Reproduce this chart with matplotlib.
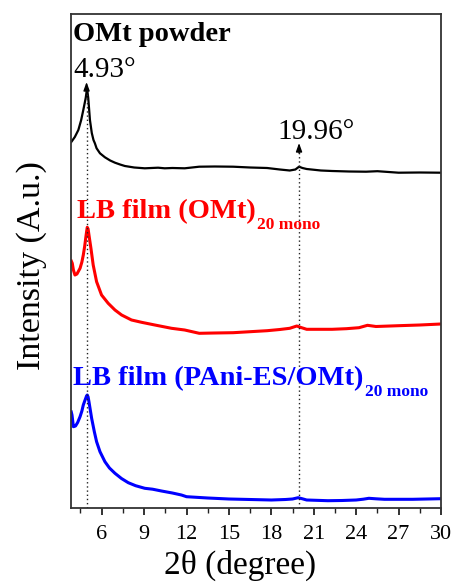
import matplotlib
matplotlib.use("Agg")
import matplotlib.pyplot as plt
from matplotlib.ticker import MultipleLocator

plt.rcParams['font.family'] = ['Liberation Serif', 'DejaVu Serif']

# ---- data (stacked intensities, arbitrary units) ----
x_omt = [3.85, 4.10, 4.35, 4.55, 4.70, 4.80, 4.87, 4.93, 4.98, 5.05, 5.17, 5.30, 5.42,
         5.52, 5.64, 5.88, 6.23, 6.60, 6.94, 7.30, 7.64, 8.3, 9.05, 9.99, 10.46, 11.0,
         11.87, 12.9, 14.0, 15.3, 16.5, 17.7, 18.6, 19.3, 19.7, 19.96, 20.2, 20.5,
         21.5, 22.3, 23.5, 24.7, 25.5, 27.0, 28.5, 30.0]
y_omt = [366, 371, 378, 388, 398, 405, 410, 416, 418, 410, 388, 375, 368,
         364.7, 359.7, 354.7, 350.7, 347.5, 345.3, 343.5, 342, 340.5, 339.7, 340.3, 339.7, 340,
         339.7, 341.3, 341.5, 341.3, 340.5, 340, 338.5, 337.5, 338.5, 341.3, 340, 339,
         337.5, 337, 336.5, 336.3, 336.8, 335.3, 335.5, 335.3]

x_lb = [3.85, 3.92, 4.00, 4.11, 4.25, 4.47, 4.60, 4.70, 4.80, 4.87, 4.93, 4.98, 5.04,
        5.10, 5.24, 5.40, 5.64, 5.99, 6.46, 6.94, 7.41, 8.11, 8.82, 9.76, 10.94, 11.87,
        12.9, 14.0, 15.3, 16.5, 17.7, 18.6, 19.3, 19.8, 20.1, 20.5, 21.5, 22.3, 23.3,
        24.2, 24.8, 25.4, 27.0, 28.5, 30.0]
y_lb = [247, 244.7, 238, 233, 234, 239.7, 246, 253, 262, 269.7, 276, 280.7, 279,
        273, 259.7, 243, 226.3, 213, 204.7, 198, 193, 188, 185.7, 183, 179.7, 178,
        174.7, 175, 175.3, 176.3, 177.3, 178.5, 179.7, 182, 180.5, 178.7, 178.7, 178.7, 179.3,
        180.3, 182.7, 181.5, 182.3, 183, 184]

x_pani = [3.85, 3.90, 4.00, 4.15, 4.30, 4.47, 4.60, 4.70, 4.80, 4.87, 4.93, 4.98, 5.04,
          5.10, 5.29, 5.48, 5.64, 5.88, 6.23, 6.55, 6.94, 7.40, 7.88, 8.40, 9.05, 9.6,
          10.23, 11.0, 11.64, 12.0, 13.5, 15.0, 16.5, 18.0, 19.0, 19.5, 19.9, 20.2, 20.5,
          22.0, 23.0, 24.0, 24.5, 24.9, 25.4, 26.0, 28.0, 30.0]
y_pani = [96, 93, 81.3, 82, 85.5, 91.3, 97, 103, 107, 109.7, 112, 113, 111,
          106.3, 89.7, 76.3, 66.3, 56.3, 46.3, 40, 34.7, 29.5, 25.3, 22.3, 19.7, 18.8,
          17, 15, 13, 11.3, 10, 9, 8.5, 8, 8.5, 9, 10.3, 9.2, 8,
          7.3, 7.5, 8, 8.8, 9.7, 9.2, 8.7, 8.7, 9.3]

peak_positions = [4.93, 19.96]
peak_labels = ['4.93°', '19.96°']
peak_marker_tops = [426, 365]
xticks = [6, 9, 12, 15, 18, 21, 24, 27, 30]

# ---- figure ----
fig = plt.figure(figsize=(4.57, 5.85), dpi=100)
ax = fig.add_axes([71/457, 1 - 508/585, (441 - 71)/457, (508 - 14)/585])

ax.plot(x_omt, y_omt, color='black', lw=1.6, solid_joinstyle='round')
ax.plot(x_lb, y_lb, color='#ff0000', lw=2.2, solid_joinstyle='round')
ax.plot(x_pani, y_pani, color='#0000ff', lw=2.2, solid_joinstyle='round')

ax.set_xlim(3.83, 30)
ax.set_ylim(0, 494)

# dotted reference lines with arrowheads
for xp, top in zip(peak_positions, peak_marker_tops):
    ax.plot([xp, xp], [0, top - 8], color='#222222', lw=1.0, ls=(0, (1, 2)))
    ax.annotate('', xy=(xp, top), xytext=(xp, top - 10),
                arrowprops=dict(arrowstyle='-|>,head_length=0.5,head_width=0.18',
                                color='black', lw=1.0, shrinkA=0, shrinkB=0))

ax.text(3.97, 431, peak_labels[0], ha='left', va='baseline', fontsize=21)
ax.text(18.44, 369, peak_labels[1], ha='left', va='baseline', fontsize=21)

# curve labels
ax.text(3.97, 467, 'OMt powder', fontsize=20.5, fontweight='bold', color='black',
        va='baseline', ha='left')
t1 = ax.text(4.25, 290, 'LB film (OMt)', fontsize=20.5, fontweight='bold', color='#ff0000',
             va='baseline', ha='left')
ax.annotate('20 mono', xy=(1, 0), xycoords=t1, xytext=(1, -3.5), textcoords='offset points',
            fontsize=12.5, fontweight='bold', color='#ff0000', va='baseline', ha='left')
t2 = ax.text(3.97, 123, 'LB film (PAni-ES/OMt)', fontsize=20.5, fontweight='bold',
             color='#0000ff', va='baseline', ha='left')
ax.annotate('20 mono', xy=(1, 0), xycoords=t2, xytext=(1, -3.5), textcoords='offset points',
            fontsize=12.5, fontweight='bold', color='#0000ff', va='baseline', ha='left')

# axes styling
ax.set_xticks(xticks)
ax.xaxis.set_minor_locator(MultipleLocator(1.5))
ax.tick_params(axis='x', which='major', direction='out', length=5, width=1.3,
               labelsize=16, pad=7, color='#222222')
ax.tick_params(axis='x', which='minor', direction='out', length=3.5, width=1.0,
               color='#222222')
ax.set_yticks([])
for s in ax.spines.values():
    s.set_color('#333333')
    s.set_linewidth(1.3)

ax.set_xlabel('2θ (degree)', fontsize=24, labelpad=0)
ax.xaxis.set_label_coords((240 - 71) / 370, -0.085)
ax.set_ylabel('Intensity (A.u.)', fontsize=24.5, labelpad=6)
ax.yaxis.set_label_coords(-0.065, 0.49)

fig.savefig('out.png', dpi=100)
